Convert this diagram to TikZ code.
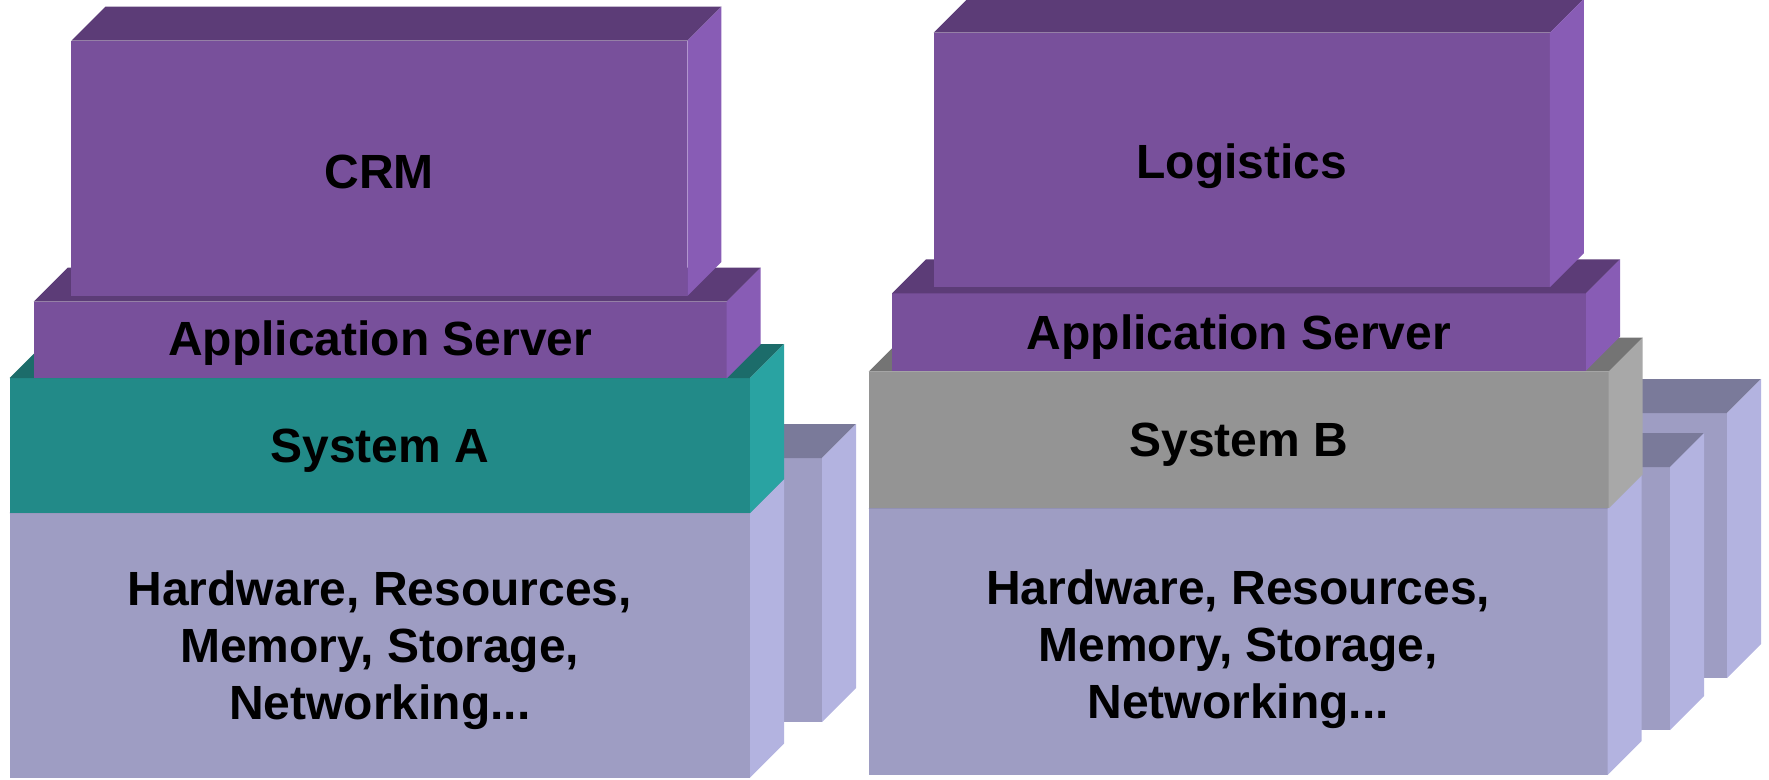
\documentclass[tikz,border=0pt]{standalone}
\usepackage{fontspec}
\setmainfont{Liberation Sans}
\definecolor{purfront}{HTML}{78509B}
\definecolor{purtop}{HTML}{5C3C77}
\definecolor{purside}{HTML}{885CB5}
\definecolor{tealfront}{HTML}{228A88}
\definecolor{tealtop}{HTML}{1C6C6A}
\definecolor{tealside}{HTML}{29A3A2}
\definecolor{grayfront}{HTML}{949494}
\definecolor{graytop}{HTML}{747474}
\definecolor{grayside}{HTML}{A8A8A8}
\definecolor{lavfront}{HTML}{9E9DC3}
\definecolor{lavtop}{HTML}{7A7A9A}
\definecolor{lavside}{HTML}{B3B3E0}
\newcommand{\dd}{34}
% #1 name, #2 x, #3 y, #4 w, #5 h, #6 colour prefix, #7 text, #8 text shift down
\newcommand{\mkbox}[8]{%
  \node[face, fill=#6front, minimum width=#4pt, minimum height=#5pt, anchor=north west] (#1) at (#2,#3) {};
  \fill[#6top] (#1.north west) -- ++(\dd,-\dd) -- ([shift={(\dd,-\dd)}]#1.north east) -- (#1.north east) -- cycle;
  \fill[#6side] (#1.north east) -- ++(\dd,-\dd) -- ([shift={(\dd,-\dd)}]#1.south east) -- (#1.south east) -- cycle;
  \node[lbl] (#1t) at ([yshift=-#8pt]#1.center) {#7};
}
\begin{document}
\begin{tikzpicture}[x=1pt,y=-1pt,
  face/.style={inner sep=0pt, outer sep=0pt},
  lbl/.style={inner sep=0pt, align=center,
    font=\fontsize{48}{57}\selectfont\bfseries, text=black}]
\useasboundingbox (0,0) rectangle (1769,779);
% left stack
\mkbox{behindA}{700}{458}{122}{264}{lav}{}{0}
\mkbox{hwA}{9.5}{513}{740.5}{264.5}{lav}{Hardware, Resources,\\Memory, Storage,\\Networking...}{5}
\mkbox{sysA}{9.5}{378}{740.5}{135}{teal}{System A}{5.5}
\mkbox{appA}{33.7}{301.7}{693}{76.6}{pur}{Application Server}{3.5}
\mkbox{crm}{71.3}{40.7}{616}{255.3}{pur}{CRM}{3.5}
% right stack
\mkbox{behindBtwo}{1560}{413}{167}{265}{lav}{}{0}
\mkbox{behindBone}{1560}{467}{110}{263}{lav}{}{0}
\mkbox{hwB}{868.7}{508.3}{739}{266.7}{lav}{Hardware, Resources,\\Memory, Storage,\\Networking...}{8}
\mkbox{sysB}{868.7}{371.7}{740}{136.6}{gray}{System B}{4.5}
\mkbox{appB}{892}{293.3}{694}{77.4}{pur}{Application Server}{5.5}
\mkbox{logi}{933.6}{32.7}{616.3}{254.6}{pur}{Logistics}{6.5}
\end{tikzpicture}
\end{document}
